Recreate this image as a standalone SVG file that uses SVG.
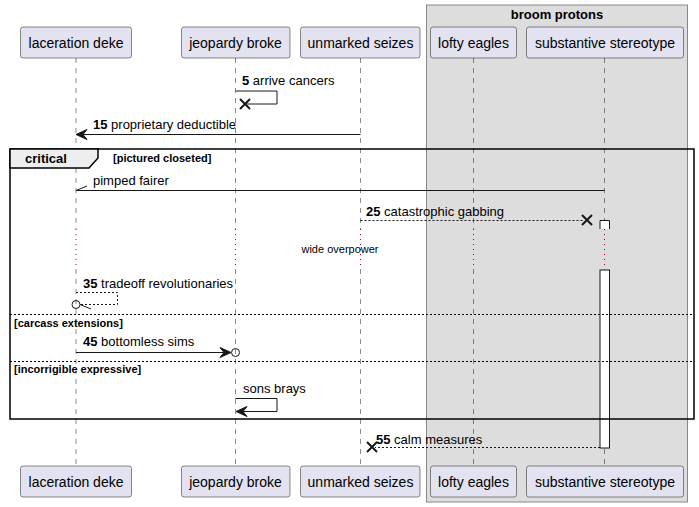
<svg xmlns="http://www.w3.org/2000/svg" width="699" height="507" viewBox="0 0 699 507">
<style>
text{font-family:"Liberation Sans",Arial,sans-serif;fill:#000}
.pt{font-size:14px;text-anchor:middle}
.pr{fill:#E2E2F0;stroke:#181818;stroke-width:0.5}
.ll{stroke:#181818;stroke-width:0.5;stroke-dasharray:5,5;fill:none}
.dl{stroke:#A80036;stroke-width:1;stroke-dasharray:1,4;fill:none}
.m{font-size:13px}
.b{font-weight:bold}
.ln{stroke:#181818;stroke-width:1;fill:none}
.dt{stroke:#181818;stroke-width:1;fill:none;stroke-dasharray:2,2}
.ah{fill:#181818;stroke:#181818;stroke-width:1}
.x{stroke:#181818;stroke-width:2}
.gl{font-size:11px;font-weight:bold}
.sep{stroke:#000;stroke-width:1;stroke-dasharray:2,2}
</style>
<g id="box-broom-protons">
<rect x="426.5" y="5" width="261" height="497" fill="#DDDDDD" stroke="#888" stroke-width="1"/>
<text x="557" y="19" class="m b" text-anchor="middle">broom protons</text>
</g>
<g id="lifelines">
<line class="ll" x1="76" y1="58" x2="76" y2="229"/><line class="dl" x1="76" y1="229" x2="76" y2="269"/><line class="ll" x1="76" y1="269" x2="76" y2="466"/>
<line class="ll" x1="235.5" y1="58" x2="235.5" y2="229"/><line class="dl" x1="235.5" y1="229" x2="235.5" y2="269"/><line class="ll" x1="235.5" y1="269" x2="235.5" y2="466"/>
<line class="ll" x1="360.5" y1="58" x2="360.5" y2="229"/><line class="dl" x1="360.5" y1="229" x2="360.5" y2="269"/><line class="ll" x1="360.5" y1="269" x2="360.5" y2="466"/>
<line class="ll" x1="473.5" y1="58" x2="473.5" y2="229"/><line class="dl" x1="473.5" y1="229" x2="473.5" y2="269"/><line class="ll" x1="473.5" y1="269" x2="473.5" y2="466"/>
<line class="ll" x1="604.5" y1="58" x2="604.5" y2="229"/><line class="dl" x1="604.5" y1="229" x2="604.5" y2="269"/><line class="ll" x1="604.5" y1="269" x2="604.5" y2="466"/>
</g>
<g id="activation">
<path d="M600,229 V220.5 H609.5 V229" fill="#FFF" stroke="#181818" stroke-width="1"/>
<rect x="600" y="270" width="9.5" height="178" fill="#FFF" stroke="#181818" stroke-width="1"/>
</g>
<g id="p-laceration-deke">
<rect class="pr" x="20.5" y="27" width="111" height="31" rx="2.5"/><text class="pt" x="76" y="48">laceration deke</text>
<rect class="pr" x="20.5" y="466" width="111" height="31" rx="2.5"/><text class="pt" x="76" y="487">laceration deke</text>
</g>
<g id="p-jeopardy-broke">
<rect class="pr" x="181.5" y="27" width="108.5" height="31" rx="2.5"/><text class="pt" x="235.5" y="48">jeopardy broke</text>
<rect class="pr" x="181.5" y="466" width="108.5" height="31" rx="2.5"/><text class="pt" x="235.5" y="487">jeopardy broke</text>
</g>
<g id="p-unmarked-seizes">
<rect class="pr" x="300.5" y="27" width="119.5" height="31" rx="2.5"/><text class="pt" x="360.5" y="48">unmarked seizes</text>
<rect class="pr" x="300.5" y="466" width="119.5" height="31" rx="2.5"/><text class="pt" x="360.5" y="487">unmarked seizes</text>
</g>
<g id="p-lofty-eagles">
<rect class="pr" x="430.5" y="27" width="86" height="31" rx="2.5"/><text class="pt" x="473.5" y="48">lofty eagles</text>
<rect class="pr" x="430.5" y="466" width="86" height="31" rx="2.5"/><text class="pt" x="473.5" y="487">lofty eagles</text>
</g>
<g id="p-substantive-stereotype">
<rect class="pr" x="526.5" y="27" width="157" height="31" rx="2.5"/><text class="pt" x="605" y="48">substantive stereotype</text>
<rect class="pr" x="526.5" y="466" width="157" height="31" rx="2.5"/><text class="pt" x="605" y="487">substantive stereotype</text>
</g>
<g id="group-critical">
<rect x="10" y="149" width="684" height="270" fill="none" stroke="#000" stroke-width="1.5"/>
<path d="M10,149 H98 V158 L89,168 H10 Z" fill="#EEEEEE" stroke="#000" stroke-width="1.5"/>
<text x="25" y="163" class="m b">critical</text>
<text x="113" y="162" class="gl">[pictured closeted]</text>
<line class="sep" x1="10" y1="314.5" x2="694" y2="314.5"/>
<text x="14" y="327" class="gl">[carcass extensions]</text>
<line class="sep" x1="10" y1="361.5" x2="694" y2="361.5"/>
<text x="14" y="373" class="gl">[incorrigible expressive]</text>
</g>
<g id="connectors">
<path class="ln" d="M235.5,91 H277 V104 H244"/>
<path class="x" d="M240,99 L250,109 M240,109 L250,99"/>
<text x="242" y="85" class="m"><tspan class="b">5</tspan> arrive cancers</text>

<line class="ln" x1="360.5" y1="134.5" x2="78" y2="134.5"/>
<polygon class="ah" points="76,134.5 87,129.5 83,134.5 87,139.5"/>
<text x="93" y="129" class="m"><tspan class="b">15</tspan> proprietary deductible</text>

<line class="ln" x1="604.5" y1="190.5" x2="76" y2="190.5"/>
<line class="ln" x1="76" y1="190.5" x2="87" y2="186"/>
<text x="93" y="185" class="m">pimped fairer</text>

<line class="dt" x1="360.5" y1="220.5" x2="584" y2="220.5"/>
<path class="x" d="M582,215 L592,225 M582,225 L592,215"/>
<text x="366" y="216" class="m"><tspan class="b">25</tspan> catastrophic gabbing</text>

<text x="340" y="253" font-size="11" text-anchor="middle">wide overpower</text>

<path class="dt" d="M76,292.5 H117.5 V304.5 H80"/>
<circle cx="76" cy="304.5" r="4" fill="none" stroke="#181818" stroke-width="1"/>
<line class="ln" x1="80" y1="304.5" x2="91" y2="309"/>
<text x="83" y="288" class="m"><tspan class="b">35</tspan> tradeoff revolutionaries</text>

<line class="ln" x1="76" y1="352.5" x2="229" y2="352.5"/>
<polygon class="ah" points="231,352.5 220,347.5 224,352.5 220,357.5"/>
<circle cx="235.5" cy="352.5" r="4" fill="none" stroke="#181818" stroke-width="1"/>
<text x="83" y="346" class="m"><tspan class="b">45</tspan> bottomless sims</text>

<path class="ln" d="M235.5,398.5 H277 V411.5 H238"/>
<polygon class="ah" points="236,411.5 247,406.5 243,411.5 247,416.5"/>
<text x="243" y="393" class="m">sons brays</text>

<line class="dt" x1="600" y1="447.5" x2="375" y2="447.5"/>
<path class="x" d="M367,442 L377,452 M367,452 L377,442"/>
<text x="376" y="444" class="m"><tspan class="b">55</tspan> calm measures</text>
</g>
</svg>
